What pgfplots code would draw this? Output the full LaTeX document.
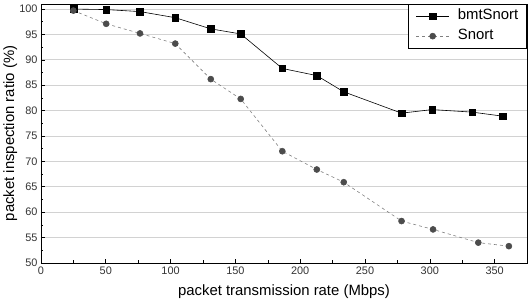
\documentclass[border=0pt]{standalone}
\usepackage{pgfplots}
\pgfplotsset{compat=1.18}
\usepackage{fontspec}
\setmainfont{Liberation Sans}
\begin{document}
\begin{tikzpicture}[x=1bp,y=1bp]
\path (0,0) rectangle (529,300);
\begin{axis}[
  at={(39bp,36bp)}, anchor=south west,
  scale only axis, width=488bp, height=260bp,
  xmin=0, xmax=375, ymin=50, ymax=101,
  xtick={0,50,...,350}, minor xtick={25,75,...,375},
  ytick={50,55,...,100}, minor ytick={52.5,57.5,...,97.5},
  tick align=inside, tick pos=left,
  major tick length=4bp, minor tick length=2.5bp,
  ymajorgrids, grid style={gray!35, line width=0.8pt},
  axis line style={line width=0.8pt},
  every tick/.style={black, line width=0.6pt},
  tick label style={font=\fontsize{11}{12}\selectfont, text=black!80},
  /pgf/number format/assume math mode=true,
  xlabel={packet transmission rate (Mbps)},
  ylabel={packet inspection ratio (\%)},
  label style={font=\fontsize{15}{16}\selectfont},
  xlabel style={at={(axis description cs:0.5,0)}, anchor=base, yshift=-33bp},
  ylabel style={at={(axis description cs:0,0.5)}, anchor=base, yshift=27bp},
  legend style={at={(1,1)}, anchor=north east, draw=black, line width=0.6pt,
    font=\fontsize{15}{16}\selectfont, cells={anchor=west},
    inner xsep=8bp, inner ysep=2bp, row sep=0bp, column sep=8bp,
    nodes={text height=10.5bp, text depth=3bp, inner ysep=3.25bp, inner xsep=0.5bp}},
  legend image code/.code={\draw[#1] (0bp,0bp) -- (33bp,0bp); \draw[#1] plot coordinates {(16.5bp,0bp)};},
]
\addplot[black, line width=0.6pt, mark=square*, mark size=3.3bp, mark options={solid}] coordinates {
(25.1,100.0) (50.5,99.9) (76.4,99.5) (103.6,98.3) (131,96.1) (154.1,95.1)
(186.2,88.3) (212.8,86.9) (233.6,83.7) (278.2,79.5) (301.8,80.2) (332.8,79.7) (356.4,78.9)};
\addlegendentry{bmtSnort}
\addplot[gray, dashed, line width=0.6pt, mark=*, mark size=3bp, mark options={solid, fill=black!70, draw=black!70}] coordinates {
(25,99.7) (50.3,97.1) (76.4,95.2) (103.6,93.2) (131,86.2) (154.1,82.3)
(186.2,72.0) (212.8,68.4) (233.6,65.9) (278.2,58.25) (302.5,56.6) (337.4,54.0) (361,53.3)};
\addlegendentry{Snort}
\end{axis}
\end{tikzpicture}
\end{document}
